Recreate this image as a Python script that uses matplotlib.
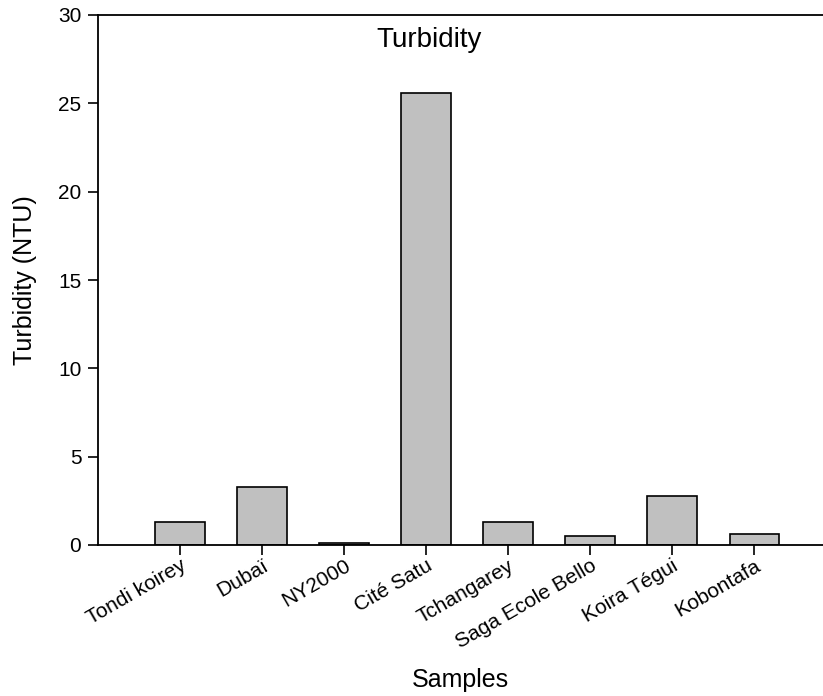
import matplotlib
matplotlib.use('Agg')
import matplotlib.pyplot as plt
import numpy as np

plt.rcParams['font.family'] = ['Liberation Sans', 'DejaVu Sans']

# sample sites and measured turbidity
samples = ['Tondi koirey', 'Dubaï', 'NY2000', 'Cité Satu', 'Tchangarey',
           'Saga Ecole Bello', 'Koira Tégui', 'Kobontafa']
turbidity = [1.28, 3.3, 0.13, 25.6, 1.3, 0.51, 2.77, 0.64]

fig = plt.figure(figsize=(8.23, 6.96), dpi=100)
ax = fig.add_axes([98 / 823, 1 - 545 / 696, 1 - 98 / 823, (545 - 15) / 696])

x = np.arange(1, len(samples) + 1)
ax.bar(x, turbidity, width=0.6, color='#c0c0c0', edgecolor='black', linewidth=1.2)

ax.set_xlim(0, 8.84)
ax.set_ylim(0, 30)
ax.set_yticks([0, 5, 10, 15, 20, 25, 30])
ax.set_xticks(x)
ax.set_xticklabels(samples, rotation=30, ha='right', rotation_mode='anchor')

ax.tick_params(axis='both', direction='out', length=7, width=1.2, labelsize=15)
ax.tick_params(axis='x', pad=1)
ax.tick_params(axis='y', pad=5)
ax.spines['right'].set_visible(False)
for s in ['left', 'bottom', 'top']:
    ax.spines[s].set_linewidth(1.3)

ax.text(0.457, 0.952, 'Turbidity', transform=ax.transAxes, ha='center', va='center', fontsize=20)
ax.set_ylabel('Turbidity (NTU)', fontsize=18)
ax.yaxis.set_label_coords(-0.084, 0.5)
ax.set_xlabel('Samples', fontsize=18)
ax.xaxis.set_label_coords(0.5, -0.232)

fig.savefig('out.png', dpi=100)
